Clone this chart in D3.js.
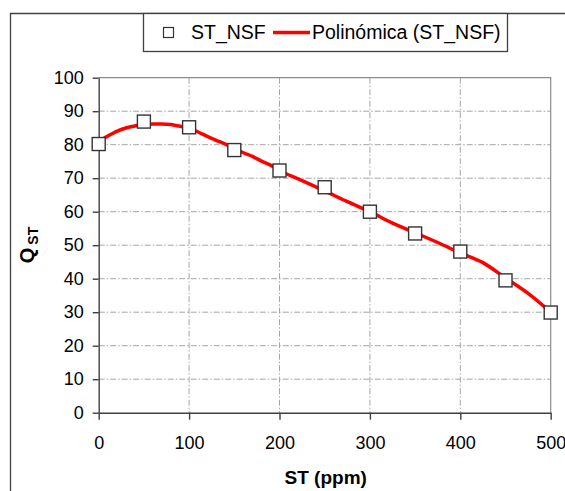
<!DOCTYPE html>
<html>
<head>
<meta charset="utf-8">
<script src="https://cdn.jsdelivr.net/npm/d3@7"></script>
<style>
  body { margin: 0; background: #fff; }
  svg { font-family: "Liberation Sans", Arial, sans-serif; }
</style>
</head>
<body>
<div id="chart"></div>
<script>
// measured points (ST_NSF)
var stValues = [0, 50, 100, 150, 200, 250, 300, 350, 400, 450, 500];
var qValues = [80.2, 86.9, 85.2, 78.4, 72.3, 67.3, 60, 53.5, 48.1, 39.5, 29.9];

// polynomial trend line
var trendX = [0, 10, 20, 30, 40, 50, 60, 70, 80, 90, 100, 110, 120, 130, 140, 150, 160, 170, 180, 190, 200,
  225, 250, 275, 300, 325, 350, 375, 400, 425, 450, 475, 500];
var trendY = [81, 82.6, 84, 85, 85.6, 86, 86.2, 86.2, 86, 85.5, 85, 83.8, 82.5, 81.3, 80.2, 78.9, 77.6, 76.5,
  75.1, 73.9, 72.3, 69.3, 66.2, 63, 60, 56.6, 53.7, 50.8, 47.7, 44.8, 40.2, 35.6, 30];

var xTicks = [0, 100, 200, 300, 400, 500];
var yTicks = [0, 10, 20, 30, 40, 50, 60, 70, 80, 90, 100];

var W = 565, H = 491;
var margin = { top: 77.7, right: 14.3, bottom: 78.3, left: 98.7 },
  width = W - margin.left - margin.right,
  height = H - margin.top - margin.bottom;

var svg = d3.select("#chart").append("svg")
  .attr("width", W)
  .attr("height", H);

// outer frame (runs off the right and bottom edge)
svg.append("path")
  .attr("d", "M10.5," + (H + 5) + "V13.5H" + (W + 5))
  .attr("fill", "none")
  .attr("stroke", "#404040")
  .attr("stroke-width", 1.3);

var g = svg.append("g")
  .attr("transform", "translate(" + margin.left + "," + margin.top + ")");

var x = d3.scaleLinear().domain([0, 500]).range([0, width]);
var y = d3.scaleLinear().domain([0, 100]).range([height, 0]);

// grid lines
g.append("g")
  .selectAll("line.hg")
  .data(yTicks.filter(function(d) { return d > 0 && d < 100; }))
  .enter().append("line")
  .attr("x1", 0).attr("x2", width)
  .attr("y1", function(d) { return y(d); })
  .attr("y2", function(d) { return y(d); })
  .attr("stroke", "#a6a6a6")
  .attr("stroke-width", 1)
  .attr("stroke-dasharray", "6,2,1.5,2");

g.append("g")
  .selectAll("line.vg")
  .data(xTicks.filter(function(d) { return d > 0 && d < 500; }))
  .enter().append("line")
  .attr("y1", 0).attr("y2", height)
  .attr("x1", function(d) { return x(d); })
  .attr("x2", function(d) { return x(d); })
  .attr("stroke", "#a6a6a6")
  .attr("stroke-width", 1)
  .attr("stroke-dasharray", "6,2,1.5,2");

// top and right border
g.append("path")
  .attr("d", "M0,0H" + width + "V" + height)
  .attr("fill", "none")
  .attr("stroke", "#8c8c8c")
  .attr("stroke-width", 1.2);

// axes
var yAxis = g.append("g")
  .call(d3.axisLeft(y).tickValues(yTicks).tickSize(6).tickPadding(9).tickSizeOuter(0));
var xAxis = g.append("g")
  .attr("transform", "translate(0," + height + ")")
  .call(d3.axisBottom(x).tickValues(xTicks).tickSize(7).tickPadding(17).tickSizeOuter(0));

[xAxis, yAxis].forEach(function(a) {
  a.selectAll("path, line").attr("stroke", "#404040").attr("stroke-width", 1.4);
  a.selectAll("text")
    .attr("fill", "#000")
    .style("font-size", "18px")
    .style("font-family", "'Liberation Sans', Arial, sans-serif");
});

// trend line
var trend = trendX.map(function(d, i) { return [d, trendY[i]]; });
g.append("path")
  .datum(trend)
  .attr("fill", "none")
  .attr("stroke", "#ff0000")
  .attr("stroke-width", 3.5)
  .attr("stroke-linejoin", "round")
  .attr("stroke-linecap", "round")
  .attr("d", d3.line()
    .x(function(d) { return x(d[0]); })
    .y(function(d) { return y(d[1]); })
    .curve(d3.curveMonotoneX));

// markers
var sq = 13;
g.selectAll("rect.pt")
  .data(stValues)
  .enter().append("rect")
  .attr("x", function(d) { return x(d) - sq / 2; })
  .attr("y", function(d, i) { return y(qValues[i]) - sq / 2; })
  .attr("width", sq)
  .attr("height", sq)
  .attr("fill", "#fff")
  .attr("stroke", "#333")
  .attr("stroke-width", 1.4);

// axis titles
svg.append("text")
  .attr("x", margin.left + width / 2 + 1)
  .attr("y", 484)
  .attr("text-anchor", "middle")
  .style("font-size", "19px")
  .style("font-weight", "bold")
  .text("ST (ppm)");

var yl = svg.append("text")
  .attr("transform", "translate(34,245) rotate(-90)")
  .attr("text-anchor", "middle")
  .style("font-size", "20px")
  .style("font-weight", "bold");
yl.append("tspan").text("Q");
yl.append("tspan").attr("dy", 4).attr("dx", 3).style("font-size", "14px").text("ST");

// legend
var lg = svg.append("g");
lg.append("rect")
  .attr("x", 143.5).attr("y", 13.5)
  .attr("width", 364).attr("height", 38)
  .attr("fill", "#fff")
  .attr("stroke", "#404040")
  .attr("stroke-width", 1.3);
lg.append("rect")
  .attr("x", 163.5).attr("y", 27.5)
  .attr("width", 10).attr("height", 10)
  .attr("fill", "#fff")
  .attr("stroke", "#333")
  .attr("stroke-width", 1.2);
lg.append("text")
  .attr("x", 191).attr("y", 38.5)
  .style("font-size", "19.5px")
  .text("ST_NSF");
lg.append("line")
  .attr("x1", 273).attr("x2", 310)
  .attr("y1", 32.5).attr("y2", 32.5)
  .attr("stroke", "#ff0000")
  .attr("stroke-width", 3.5);
lg.append("text")
  .attr("x", 312).attr("y", 38.5)
  .style("font-size", "19.5px")
  .text("Polinómica (ST_NSF)");
</script>
</body>
</html>
